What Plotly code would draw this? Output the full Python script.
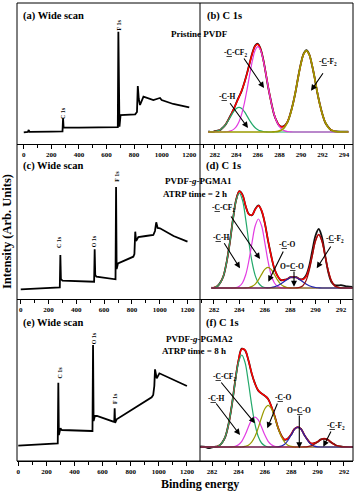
import plotly.graph_objects as go

# ---------------- wide scans: binding energy (eV) / intensity (arb.) ----------------
WIDE_A_BE = [0, 30, 36, 42, 200, 281, 285, 289, 400, 600, 682, 686, 690, 694, 702, 760, 808, 821,
             827, 834, 843, 868, 940, 975, 988, 1000, 1084, 1200]
WIDE_A_I = [11.7, 12.2, 14.0, 12.1, 12.3, 12.6, 25.7, 16.3, 16.3, 16.6, 16.8, 112.3, 20.0, 17.3, 29.0,
            29.2, 29.6, 32.0, 58.0, 45.0, 39.0, 47.3, 44.0, 45.5, 46.0, 44.0, 40.0, 36.7]

WIDE_C_BE = [0, 150, 281, 285, 289, 300, 450, 528, 532, 536, 545, 600, 682, 686, 690, 700, 760, 810,
             818, 824, 830, 846, 900, 954, 966, 975, 985, 1002, 1100, 1200]
WIDE_C_I = [9.7, 10.5, 11.5, 44.0, 20.0, 18.3, 17.5, 17.3, 49.7, 24.0, 22.3, 21.0, 19.7, 112.0, 30.0,
            35.7, 39.0, 42.3, 45.0, 67.3, 58.0, 62.0, 63.0, 64.0, 68.0, 76.7, 71.0, 70.7, 63.0, 57.3]

WIDE_E_BE = [0, 274, 281, 285, 289, 300, 310, 523, 528, 532, 536, 545, 560, 677, 683, 686, 689, 700,
             949, 960, 968, 973, 985, 1004, 1151, 1200]
WIDE_E_I = [15.3, 17.7, 17.7, 78.3, 26.0, 32.7, 31.0, 30.0, 30.0, 116.0, 40.0, 45.0, 45.0, 39.3, 40.0,
            52.7, 38.0, 41.7, 63.7, 66.0, 75.0, 91.7, 82.7, 87.7, 77.7, 75.0]

# ---------------- C 1s (b): pristine PVDF ----------------
BE_B = [281.4, 281.75, 282.0, 282.25, 282.5, 282.75, 283.0, 283.25, 283.5, 283.75, 284.0, 284.25,
        284.5, 284.75, 285.0, 285.25, 285.5, 285.75, 286.0, 286.25, 286.5, 286.75, 287.0, 287.25,
        287.5, 287.75, 288.0, 288.25, 288.5, 288.75, 289.0, 289.25, 289.5, 289.75, 290.0, 290.25,
        290.5, 290.75, 291.0, 291.25, 291.5, 291.75, 292.0, 292.25, 292.5, 292.75, 293.0, 293.25, 294.4]
RAW_B = [12.6, 12.0, 12.8, 13.4, 14.0, 16.5, 19.2, 24.2, 29.3, 34.5, 41.2, 47.3, 53.2, 61.5, 71.0,
         81.5, 91.4, 98.4, 100.2, 95.2, 84.6, 69.6, 54.3, 41.3, 29.6, 22.8, 18.2, 17.4, 18.6, 22.0,
         29.8, 40.0, 52.3, 67.5, 80.9, 90.3, 93.8, 90.2, 80.0, 67.4, 52.3, 40.0, 29.5, 21.5, 17.4,
         14.2, 12.8, 12.6, 12.3]
ENV_B = [12, 12.2, 12.5, 13.1, 14.3, 16.2, 19.5, 23.8, 29.0, 34.9, 40.9, 46.9, 53.5, 61.2, 70.6,
         81.1, 91.0, 97.9, 99.6, 94.8, 84.2, 70.0, 54.7, 40.9, 30.0, 22.6, 18.5, 17.0, 18.2, 22.3,
         29.4, 39.6, 52.7, 67.1, 80.4, 89.9, 93.3, 89.9, 80.4, 67.1, 52.7, 39.6, 29.2, 21.8, 17.1,
         14.4, 13.1, 12.4, 12]
CH_B = [12, 12.2, 12.5, 13.1, 14.3, 16.2, 19.3, 23.3, 27.9, 32.3, 35.5, 36.7, 35.5, 32.3, 27.9,
        23.3, 19.3, 16.2, 14.3, 13.1, 12.5, 12.2,
        12, 12, 12, 12, 12, 12, 12, 12, 12,
        12, 12, 12, 12, 12, 12, 12, 12, 12,
        12, 12, 12, 12, 12, 12, 12, 12, 12]
CCF_B = [12, 12, 12, 12, 12, 12, 12.2, 12.4,
         13.1, 14.6, 17.4, 22.2, 30.0, 40.9, 54.7, 69.8, 83.7, 93.7, 97.3, 93.7, 83.7, 69.8, 54.7,
         40.9, 30.0, 22.2, 17.4, 14.6, 13.1,
         12.4, 12.2,
         12, 12, 12, 12, 12, 12, 12, 12, 12,
         12, 12, 12, 12, 12, 12, 12, 12, 12]
CF2_B = [12, 12, 12, 12, 12, 12, 12, 12, 12, 12, 12, 12,
         12, 12, 12, 12, 12, 12, 12, 12, 12, 12, 12, 12,
         12.2, 12.4, 13.1, 14.4, 17.1, 21.8, 29.2, 39.6, 52.7, 67.1, 80.4, 89.9, 93.3, 89.9, 80.4,
         67.1, 52.7, 39.6, 29.2, 21.8, 17.1, 14.4, 13.1, 12.4, 12]

# ---------------- C 1s (d): PVDF-g-PGMA1 ----------------
BE_D = [281.8, 282.0, 282.25, 282.5, 282.75, 283.0, 283.25, 283.5, 283.75, 284.0, 284.25, 284.5,
        284.75, 285.0, 285.25, 285.5, 285.75, 286.0, 286.25, 286.5, 286.75, 287.0, 287.25, 287.5,
        287.75, 288.0, 288.25, 288.5, 288.75, 289.0, 289.25, 289.5, 289.75, 290.0, 290.25, 290.5,
        290.75, 291.0, 291.25, 291.5, 291.75, 292.0, 292.5, 292.9]
RAW_D = [11.4, 11.2, 12.5, 16.5, 23.0, 37.2, 56.3, 80.2, 99.4, 107.9, 104.2, 92.6, 84.9, 83.8, 89.9,
         93.6, 88.2, 76.3, 58.8, 43.7, 30.5, 23.4, 18.9, 19.2, 19.6, 21.8, 21.6, 21.8, 19.7, 19.9,
         23.5, 33.0, 48.5, 63.5, 70.0, 62.0, 44.0, 27.0, 17.0, 14.0, 13.5, 13.8, 12.5, 12.0]
ENV_D = [11, 11.5, 12.8, 16.1, 23.4, 36.8, 56.7, 79.8, 99.0, 107.7, 103.8, 93.0, 84.5, 84.1, 89.5,
         93.2, 88.6, 75.9, 59.2, 43.3, 30.9, 23.0, 19.3, 18.8, 20.0, 21.4, 22.0, 21.4, 20.1, 19.5,
         22.2, 30.5, 44.4, 58.5, 64.5, 58.1, 43.3, 28.3, 18.2, 13.3, 11.6, 11.1, 11, 11]
CH_D = [11, 11.5, 12.8, 16.1, 23.4, 36.8, 56.7, 79.7, 98.6, 106, 98.6, 79.7, 56.7, 36.8, 23.4, 16.1,
        12.8, 11.5,
        11, 11, 11, 11, 11, 11, 11, 11, 11, 11, 11, 11, 11,
        11, 11, 11, 11, 11, 11, 11, 11, 11, 11, 11, 11, 11]
CCF_D = [11, 11, 11, 11, 11, 11, 11, 11,
         11.4, 12.7, 16.2, 24.2, 38.3, 56.7, 73.2, 80, 73.2, 56.7, 38.3, 24.2, 16.2, 12.7, 11.4,
         11, 11, 11, 11, 11, 11, 11, 11, 11, 11, 11,
         11, 11, 11, 11, 11, 11, 11, 11, 11, 11]
CO_D = [11, 11, 11, 11, 11, 11, 11, 11, 11, 11, 11,
        11.1, 11.5, 12.6, 14.9, 19.1, 24.6, 29.6, 31.6, 29.6, 24.6, 19.1, 14.9, 12.6, 11.5, 11.1,
        11, 11, 11, 11, 11, 11, 11, 11, 11,
        11, 11, 11, 11, 11, 11, 11, 11, 11]
OCO_D = [11, 11, 11, 11, 11, 11, 11, 11, 11, 11, 11, 11, 11, 11, 11, 11, 11, 11,
         11.2, 11.5, 12.1, 13.2, 15.0, 17.2, 19.5, 21.3, 22, 21.3, 19.5, 17.2, 15.0, 13.2, 12.1,
         11.5, 11.2,
         11, 11, 11, 11, 11, 11, 11, 11, 11]
CF2_D = [11, 11, 11, 11, 11, 11, 11, 11, 11, 11, 11, 11, 11, 11, 11, 11, 11, 11,
         11, 11, 11, 11, 11, 11, 11, 11, 11,
         11.1, 11.6, 13.3, 18.2, 28.3, 43.3, 58.0, 64.3, 58.0, 43.3, 28.3, 18.2, 13.3, 11.6, 11.1,
         11, 11]

# ---------------- C 1s (f): PVDF-g-PGMA2 ----------------
BE_F = [281.1, 281.5, 281.75, 282.0, 282.25, 282.5, 282.75, 283.0, 283.25, 283.5, 283.75, 284.0,
        284.25, 284.5, 284.75, 285.0, 285.25, 285.5, 285.75, 286.0, 286.25, 286.5, 286.75, 287.0,
        287.25, 287.5, 287.75, 288.0, 288.25, 288.5, 288.75, 289.0, 289.25, 289.5, 289.75, 290.0,
        290.25, 290.5, 290.75, 291.0, 291.25, 291.5, 291.75, 292.0, 292.5, 292.75]
RAW_F = [14.5, 14.0, 12.8, 13.6, 14.3, 15.0, 18.3, 24.2, 37.3, 56.0, 80.1, 100.4, 112.3, 110.6,
         101.0, 87.6, 77.6, 70.4, 67.6, 65.1, 62.1, 54.2, 44.7, 33.2, 25.6, 21.2, 22.6, 26.4, 32.2,
         33.7, 32.1, 25.9, 21.2, 17.5, 17.9, 19.0, 21.7, 22.1, 21.7, 18.8, 17.0, 14.8, 14.6, 13.9,
         14.2, 14.0]
ENV_F = [14, 14, 14, 14, 14, 15.3, 18.0, 24.5, 36.9, 56.3, 79.7, 100.7, 111.9, 110.9, 100.7, 88.0,
         77.3, 70.7, 67.4, 65.4, 61.8, 54.5, 44.4, 33.5, 25.3, 21.5, 22.3, 26.7, 31.9, 34.0, 31.8,
         26.2, 20.9, 17.8, 17.6, 19.3, 21.4, 22.4, 21.4, 19.1, 16.7, 15.1, 14.4, 14.1, 14, 14]
CH_F = [14, 14, 14, 14, 14,
        15.3, 18.0, 24.5, 36.9, 56.1, 79.0, 98.4, 106, 98.4, 79.0, 56.1, 36.9, 24.5, 18.0, 15.3,
        14, 14, 14, 14, 14, 14, 14, 14, 14, 14, 14, 14, 14,
        14, 14, 14, 14, 14, 14, 14, 14, 14, 14, 14, 14, 14]
CCF_F = [14, 14, 14, 14, 14, 14, 14, 14, 14,
         14.2, 14.7, 16.3, 19.7, 25.9, 33.9, 41.1, 44, 41.1, 33.9, 25.9, 19.7, 16.3, 14.7, 14.2,
         14, 14, 14, 14, 14, 14, 14, 14, 14, 14, 14,
         14, 14, 14, 14, 14, 14, 14, 14, 14, 14, 14]
CO_F = [14, 14, 14, 14, 14, 14, 14, 14, 14, 14, 14, 14, 14,
        14.6, 15.8, 18.8, 24.4, 33.1, 43.5, 52.2, 55.7, 52.2, 43.5, 33.1, 24.4, 18.8, 15.8, 14.6,
        14, 14, 14, 14, 14, 14, 14, 14, 14,
        14, 14, 14, 14, 14, 14, 14, 14, 14]
OCO_F = [14, 14, 14, 14, 14, 14, 14, 14, 14, 14, 14, 14, 14, 14, 14, 14, 14, 14, 14, 14, 14, 14, 14,
         14.2, 14.9, 16.7, 20.5, 26.1, 31.7, 34, 31.7, 26.1, 20.5, 16.7, 14.9, 14.2,
         14, 14, 14, 14, 14, 14, 14, 14, 14, 14]
CF2_F = [14, 14, 14, 14, 14, 14, 14, 14, 14, 14, 14, 14, 14, 14, 14, 14,
         14, 14, 14, 14, 14, 14, 14, 14, 14, 14, 14, 14, 14, 14, 14,
         14.1, 14.4, 15.1, 16.7, 19.1, 21.4, 22.4, 21.4, 19.1, 16.7, 15.1, 14.4, 14.1,
         14, 14]

SERIF = "Liberation Serif"
GREEN, MAGENTA, OLIVE, BLUE, MAROON = "#22a86a", "#e23ce2", "#9a9a00", "#2323b0", "#8e1010"

W, H = 358, 493
ML, MR, MT, MB = 17, 5, 3, 32
PW, PH = W - ML - MR, H - MT - MB


def px(x, y):
    """pixel position in the picture -> paper coordinates"""
    return (x - ML) / PW, (H - MB - y) / PH


XL = [0, px(200, 0)[0]]
XR = [px(200, 0)[0], 1]
ROW1 = [px(0, 144)[1], 1]
ROW2 = [px(0, 299)[1], px(0, 157)[1]]
ROW3 = [0, px(0, 318)[1]]

fig = go.Figure()


def add(x, y, n, color, width, shape="linear"):
    s = "" if n == 1 else str(n)
    fig.add_trace(go.Scatter(x=x, y=y, mode="lines", xaxis="x" + s, yaxis="y" + s,
                             line=dict(color=color, width=width, shape=shape),
                             showlegend=False, hoverinfo="skip"))


add(WIDE_A_BE, WIDE_A_I, 1, "black", 1.8)
add(WIDE_C_BE, WIDE_C_I, 3, "black", 1.8)
add(WIDE_E_BE, WIDE_E_I, 5, "black", 1.8)

for n, be, raw, env, comps in [
    (2, BE_B, RAW_B, ENV_B, [(CH_B, GREEN, 1.2), (CCF_B, MAGENTA, 1.2), (CF2_B, OLIVE, 1.7)]),
    (4, BE_D, RAW_D, ENV_D, [(CH_D, GREEN, 1.2), (CCF_D, MAGENTA, 1.2), (CO_D, OLIVE, 1.2),
                             (OCO_D, BLUE, 1.2), (CF2_D, MAROON, 1.2)]),
    (6, BE_F, RAW_F, ENV_F, [(CH_F, GREEN, 1.2), (CCF_F, MAGENTA, 1.2), (CO_F, OLIVE, 1.2),
                             (OCO_F, BLUE, 1.2), (CF2_F, MAROON, 1.2)]),
]:
    add(be, raw, n, "#111111", 1.8, "spline")
    add(be, env, n, "#ff0000", 1.5, "spline")
    for vals, col, lw in comps:
        add(be, vals, n, col, lw, "spline")

tickfont = dict(family=SERIF, size=7, color="black", weight="bold")
xcommon = dict(showline=True, linecolor="black", linewidth=1, ticks="outside", ticklen=4,
               tickwidth=1, tickcolor="black", showgrid=False, zeroline=False, tickfont=tickfont)
ycommon = dict(visible=False, showgrid=False, zeroline=False)

layout_axes = {}
specs = [
    (1, XL, ROW1, [-49, 1278], [0, 141], 200, 100),
    (2, XR, ROW1, [280.63, 294.83], [0, 141], 2, 1),
    (3, XL, ROW2, [-27, 1290], [0, 142], 200, 100),
    (4, XR, ROW2, [280.9, 292.95], [0, 142], 2, 1),
    (5, XL, ROW3, [-9, 1293], [0, 143], 200, 100),
    (6, XR, ROW3, [281.08, 292.69], [0, 143], 2, 1),
]
for n, xd, yd, xr, yr, dt, mdt in specs:
    s = "" if n == 1 else str(n)
    layout_axes["xaxis" + s] = dict(domain=xd, range=xr, anchor="y" + s, dtick=dt, tick0=0,
                                    minor=dict(dtick=mdt, ticks="outside", ticklen=2.5,
                                               tickcolor="black"), **xcommon)
    layout_axes["yaxis" + s] = dict(domain=yd, range=yr, anchor="x" + s, **ycommon)

ann = []


def text(x, y, t, size, xanchor="center", angle=0):
    xx, yy = px(x, y)
    ann.append(dict(x=xx, y=yy, xref="paper", yref="paper", text=t, showarrow=False,
                    xanchor=xanchor, yanchor="middle", textangle=angle,
                    font=dict(family=SERIF, size=size, color="black", weight="bold")))


def arrow(tx, ty, hx, hy):
    xx, yy = px(hx, hy)
    ann.append(dict(x=xx, y=yy, xref="paper", yref="paper", text="", showarrow=True,
                    ax=tx - hx, ay=ty - hy, arrowhead=2, arrowsize=1.1, arrowwidth=1.1,
                    arrowcolor="black", standoff=0))


# panel titles
text(21, 16, "(a) Wide scan", 10.5, "left")
text(205, 16, "(b) C 1s", 10.5, "left")
text(21, 166, "(c) Wide scan", 10.5, "left")
text(204, 166, "(d) C 1s", 10.5, "left")
text(21, 323, "(e) Wide scan", 10.5, "left")
text(204, 323, "(f) C 1s", 10.5, "left")

# sample names
text(200, 34, "Pristine PVDF", 9)
text(198, 181, "PVDF-<i>g</i>-PGMA1", 9)
text(195, 193.5, "ATRP time = 2 h", 9)
text(199, 338.5, "PVDF-<i>g</i>-PGMA2", 9)
text(194, 350.5, "ATRP time = 8 h", 9)

# wide-scan peak labels
for x, y, t in [(63, 113, "C 1s"), (118.5, 25, "F 1s"),
                (58.3, 241.7, "C 1s"), (94.3, 241, "O 1s"), (116.7, 176, "F 1s"),
                (59, 372.5, "C 1s"), (94, 338.3, "O 1s"), (115, 399, "F 1s")]:
    text(x, y, t, 6, "center", -90)

U = "<u>C</u>"
# (b)
text(235, 53, "-" + U + "-CF<sub>2</sub>", 7.5)
arrow(243, 57, 264, 88)
text(226.5, 96.7, "-" + U + "-H", 7.5)
arrow(229, 101.7, 248, 128)
text(327.5, 61.7, "-" + U + "-F<sub>2</sub>", 7.5)
arrow(324, 71.7, 311, 90.7)
# (d)
text(223, 208, "-" + U + "-CF<sub>2</sub>", 7.5)
arrow(230, 215, 260, 259)
text(221, 237.3, "-" + U + "-H", 7.5)
arrow(223.3, 241.7, 240, 268.3)
text(286.5, 244.3, "-" + U + "-O", 7.5)
arrow(284, 250, 268.3, 281.7)
text(292, 266, "O=" + U + "-O", 7.5)
arrow(294, 270, 294, 286.7)
text(335, 239.3, "-" + U + "-F<sub>2</sub>", 7.5)
arrow(331.7, 245, 316.7, 268.3)
# (f)
text(224.3, 376.7, "-" + U + "-CF<sub>2</sub>", 7.5)
arrow(220, 381, 255, 423.3)
text(215.5, 398.3, "-" + U + "-H", 7.5)
arrow(215, 402, 240, 435)
text(283, 397.7, "-" + U + "-O", 7.5)
arrow(278, 402, 267.3, 428.3)
text(299.3, 410, "O=" + U + "-O", 7.5)
arrow(299.3, 414, 299.3, 448.3)
text(336.3, 426, "-" + U + "-F<sub>2</sub>", 7.5)
arrow(331.7, 430, 323.3, 446.7)

# axis titles
text(200, 484, "Binding energy", 12)
text(7, 232, "Intensity (Arb. Units)", 12.5, "center", -90)

x_div = px(200, 0)[0]
shapes = [
    dict(type="rect", xref="paper", yref="paper", x0=0, x1=1, y0=0, y1=1,
         line=dict(color="black", width=1)),
    dict(type="line", xref="paper", yref="paper", x0=x_div, x1=x_div, y0=0, y1=1,
         line=dict(color="black", width=1)),
]

fig.update_layout(width=W, height=H, autosize=False,
                  margin=dict(l=ML, r=MR, t=MT, b=MB, pad=0),
                  paper_bgcolor="white", plot_bgcolor="white",
                  annotations=ann, shapes=shapes, **layout_axes)

# the page's default body margin would shift the figure; remove it
fig.write_html("out.html", config={"displayModeBar": False},
               post_script="document.body.style.margin='0px';")
